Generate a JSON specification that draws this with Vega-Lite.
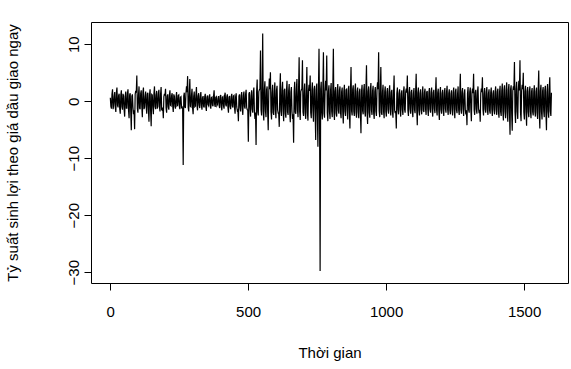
{
"$schema": "https://vega.github.io/schema/vega-lite/v6.json",
"width": 477, "height": 261,
"autosize": {"type": "none"},
"padding": {"left": 91, "top": 22, "right": 3, "bottom": 86},
"background": "white",
"config": {
 "view": {"stroke": "black", "strokeWidth": 1},
 "axis": {"grid": false, "domain": false, "tickColor": "black", "tickSize": 7, "labelFont": "Liberation Sans", "titleFont": "Liberation Sans", "labelFontSize": 15, "titleFontSize": 15, "labelColor": "black", "titleColor": "black", "titleFontWeight": "normal", "labelOverlap": false, "labelFlush": false}
},
"data": {"values": [
{"t":1,"r":0.6},{"t":5,"r":-1.3},{"t":9,"r":2.1},{"t":13,"r":-0.8},{"t":17,"r":1.6},{"t":21,"r":-1.9},{"t":25,"r":2.4},{"t":29,"r":-1.1},{"t":33,"r":1.3},{"t":37,"r":-2.2},
{"t":41,"r":1.9},{"t":45,"r":-1.5},{"t":49,"r":0.9},{"t":53,"r":-2.7},{"t":57,"r":1.7},{"t":61,"r":-1.2},{"t":65,"r":2.1},{"t":69,"r":-3.0},{"t":73,"r":1.4},{"t":77,"r":-5.1},
{"t":81,"r":1.2},{"t":85,"r":-2.3},{"t":89,"r":-4.9},{"t":93,"r":1.8},{"t":97,"r":4.5},{"t":101,"r":-2.0},{"t":105,"r":2.6},{"t":109,"r":-1.4},{"t":113,"r":1.9},{"t":117,"r":-2.8},
{"t":121,"r":2.4},{"t":125,"r":-1.1},{"t":129,"r":1.7},{"t":133,"r":-2.2},{"t":137,"r":1.5},{"t":141,"r":-3.6},{"t":145,"r":2.1},{"t":149,"r":-4.4},{"t":153,"r":1.1},{"t":157,"r":-2.3},
{"t":161,"r":2.6},{"t":165,"r":-1.4},{"t":169,"r":1.8},{"t":173,"r":-0.9},{"t":177,"r":2.0},{"t":181,"r":-1.8},{"t":185,"r":2.5},{"t":189,"r":-1.6},{"t":193,"r":-3.0},{"t":197,"r":1.3},
{"t":201,"r":2.2},{"t":205,"r":-2.0},{"t":209,"r":1.2},{"t":213,"r":-1.5},{"t":217,"r":1.9},{"t":221,"r":-0.8},{"t":225,"r":1.4},{"t":229,"r":-1.9},{"t":233,"r":0.9},{"t":237,"r":-1.3},
{"t":241,"r":1.6},{"t":245,"r":-0.7},{"t":249,"r":1.1},{"t":253,"r":-1.4},{"t":257,"r":0.8},{"t":261,"r":-1.0},{"t":265,"r":-11.2},{"t":269,"r":1.5},{"t":273,"r":-1.2},{"t":277,"r":2.6},
{"t":281,"r":4.4},{"t":285,"r":-1.8},{"t":289,"r":3.9},{"t":293,"r":-1.0},{"t":297,"r":2.2},{"t":301,"r":-2.3},{"t":305,"r":1.7},{"t":309,"r":-0.9},{"t":313,"r":2.5},{"t":317,"r":-1.6},
{"t":321,"r":1.4},{"t":325,"r":-1.2},{"t":329,"r":1.6},{"t":333,"r":-1.5},{"t":337,"r":0.9},{"t":341,"r":-1.1},{"t":345,"r":1.3},{"t":349,"r":-1.7},{"t":353,"r":1.0},{"t":357,"r":-0.8},
{"t":361,"r":1.2},{"t":365,"r":-1.3},{"t":369,"r":0.7},{"t":373,"r":-0.9},{"t":377,"r":1.9},{"t":381,"r":-1.0},{"t":385,"r":0.8},{"t":389,"r":-0.6},{"t":393,"r":0.9},{"t":397,"r":-1.2},
{"t":401,"r":1.1},{"t":405,"r":-1.6},{"t":409,"r":0.8},{"t":413,"r":-1.3},{"t":417,"r":1.5},{"t":421,"r":-0.9},{"t":425,"r":1.2},{"t":429,"r":-2.0},{"t":433,"r":0.9},{"t":437,"r":-1.4},
{"t":441,"r":1.3},{"t":445,"r":-1.1},{"t":449,"r":1.0},{"t":453,"r":-2.2},{"t":457,"r":1.4},{"t":461,"r":-1.6},{"t":465,"r":-3.5},{"t":469,"r":1.2},{"t":473,"r":-1.8},{"t":477,"r":1.6},
{"t":481,"r":-2.4},{"t":485,"r":1.7},{"t":489,"r":-1.3},{"t":493,"r":2.0},{"t":497,"r":-1.5},{"t":501,"r":-7.1},{"t":505,"r":1.6},{"t":509,"r":-2.7},{"t":513,"r":1.9},{"t":517,"r":-2.0},
{"t":521,"r":2.4},{"t":525,"r":-3.1},{"t":529,"r":-7.7},{"t":533,"r":3.8},{"t":537,"r":-2.5},{"t":541,"r":2.0},{"t":545,"r":8.9},{"t":549,"r":-2.5},{"t":553,"r":11.9},{"t":557,"r":-3.4},
{"t":561,"r":3.5},{"t":565,"r":-2.8},{"t":569,"r":2.6},{"t":573,"r":-5.1},{"t":577,"r":4.0},{"t":581,"r":5.1},{"t":585,"r":-3.2},{"t":589,"r":2.9},{"t":593,"r":-2.4},{"t":597,"r":3.3},
{"t":601,"r":-3.0},{"t":605,"r":2.7},{"t":609,"r":-2.1},{"t":613,"r":-4.5},{"t":617,"r":4.9},{"t":621,"r":-2.6},{"t":625,"r":3.4},{"t":629,"r":-3.5},{"t":633,"r":2.2},{"t":637,"r":-2.9},
{"t":641,"r":3.6},{"t":645,"r":-2.4},{"t":649,"r":3.0},{"t":653,"r":-3.7},{"t":657,"r":2.5},{"t":661,"r":-3.1},{"t":665,"r":-7.3},{"t":669,"r":3.4},{"t":673,"r":-2.2},{"t":677,"r":3.9},
{"t":681,"r":-2.8},{"t":685,"r":7.7},{"t":689,"r":-3.3},{"t":693,"r":2.0},{"t":697,"r":7.2},{"t":701,"r":-2.6},{"t":705,"r":3.1},{"t":709,"r":-3.1},{"t":713,"r":6.0},{"t":717,"r":-3.4},
{"t":721,"r":2.9},{"t":725,"r":4.5},{"t":729,"r":-3.0},{"t":733,"r":3.3},{"t":737,"r":-3.6},{"t":741,"r":2.7},{"t":745,"r":-6.8},{"t":749,"r":3.1},{"t":753,"r":-8.0},{"t":757,"r":9.2},
{"t":761,"r":-29.8},{"t":765,"r":3.4},{"t":769,"r":-3.2},{"t":773,"r":8.6},{"t":777,"r":-2.9},{"t":781,"r":3.6},{"t":785,"r":8.0},{"t":789,"r":-3.5},{"t":793,"r":2.8},{"t":797,"r":-3.1},
{"t":801,"r":3.2},{"t":805,"r":-2.8},{"t":809,"r":9.2},{"t":813,"r":-3.3},{"t":817,"r":2.5},{"t":821,"r":-2.7},{"t":825,"r":3.0},{"t":829,"r":-2.2},{"t":833,"r":2.6},{"t":837,"r":-3.0},
{"t":841,"r":2.4},{"t":845,"r":-3.9},{"t":849,"r":2.9},{"t":853,"r":-2.6},{"t":857,"r":2.1},{"t":861,"r":-3.2},{"t":865,"r":2.7},{"t":869,"r":-4.8},{"t":873,"r":6.0},{"t":877,"r":-2.5},
{"t":881,"r":2.8},{"t":885,"r":-2.6},{"t":889,"r":3.1},{"t":893,"r":-2.9},{"t":897,"r":2.4},{"t":901,"r":-3.0},{"t":905,"r":2.2},{"t":909,"r":-5.6},{"t":913,"r":2.9},{"t":917,"r":-2.3},
{"t":921,"r":3.0},{"t":925,"r":-2.7},{"t":929,"r":6.3},{"t":933,"r":-4.0},{"t":937,"r":2.6},{"t":941,"r":-2.9},{"t":945,"r":3.2},{"t":949,"r":-2.4},{"t":953,"r":2.7},{"t":957,"r":-3.1},
{"t":961,"r":2.5},{"t":965,"r":-2.6},{"t":969,"r":3.3},{"t":973,"r":8.6},{"t":977,"r":-2.8},{"t":981,"r":6.0},{"t":985,"r":-2.4},{"t":989,"r":2.9},{"t":993,"r":-3.0},{"t":997,"r":2.6},
{"t":1001,"r":-2.7},{"t":1005,"r":2.3},{"t":1009,"r":-2.2},{"t":1013,"r":2.8},{"t":1017,"r":-2.5},{"t":1021,"r":2.0},{"t":1025,"r":-2.9},{"t":1029,"r":4.5},{"t":1033,"r":-2.1},{"t":1037,"r":-4.8},
{"t":1041,"r":2.4},{"t":1045,"r":-2.3},{"t":1049,"r":2.1},{"t":1053,"r":-2.7},{"t":1057,"r":1.9},{"t":1061,"r":-2.4},{"t":1065,"r":2.6},{"t":1069,"r":-2.0},{"t":1073,"r":2.2},{"t":1077,"r":4.5},
{"t":1081,"r":-2.6},{"t":1085,"r":2.5},{"t":1089,"r":-2.2},{"t":1093,"r":2.0},{"t":1097,"r":-2.8},{"t":1101,"r":2.3},{"t":1105,"r":-2.1},{"t":1109,"r":4.8},{"t":1113,"r":-4.2},{"t":1117,"r":2.4},
{"t":1121,"r":-2.5},{"t":1125,"r":2.1},{"t":1129,"r":-2.3},{"t":1133,"r":2.6},{"t":1137,"r":-1.9},{"t":1141,"r":2.2},{"t":1145,"r":-2.4},{"t":1149,"r":1.8},{"t":1153,"r":-2.6},{"t":1157,"r":2.3},
{"t":1161,"r":-2.0},{"t":1165,"r":2.4},{"t":1169,"r":-2.7},{"t":1173,"r":2.0},{"t":1177,"r":-2.1},{"t":1181,"r":4.2},{"t":1185,"r":-2.5},{"t":1189,"r":2.2},{"t":1193,"r":-3.3},{"t":1197,"r":2.5},
{"t":1201,"r":-2.2},{"t":1205,"r":2.0},{"t":1209,"r":-2.6},{"t":1213,"r":2.3},{"t":1217,"r":-2.0},{"t":1221,"r":2.7},{"t":1225,"r":-2.4},{"t":1229,"r":2.1},{"t":1233,"r":-2.3},{"t":1237,"r":1.9},
{"t":1241,"r":-2.5},{"t":1245,"r":2.4},{"t":1249,"r":-3.0},{"t":1253,"r":2.2},{"t":1257,"r":-2.1},{"t":1261,"r":2.6},{"t":1265,"r":-2.4},{"t":1269,"r":4.8},{"t":1273,"r":-2.2},{"t":1277,"r":2.3},
{"t":1281,"r":-2.6},{"t":1285,"r":2.1},{"t":1289,"r":-2.3},{"t":1293,"r":-4.2},{"t":1297,"r":2.5},{"t":1301,"r":-2.0},{"t":1305,"r":2.4},{"t":1309,"r":-3.5},{"t":1313,"r":2.2},{"t":1317,"r":4.8},
{"t":1321,"r":-2.4},{"t":1325,"r":2.0},{"t":1329,"r":-2.2},{"t":1333,"r":2.6},{"t":1337,"r":-2.1},{"t":1341,"r":-3.6},{"t":1345,"r":2.2},{"t":1349,"r":4.2},{"t":1353,"r":-2.5},{"t":1357,"r":2.3},
{"t":1361,"r":-2.0},{"t":1365,"r":2.5},{"t":1369,"r":-2.4},{"t":1373,"r":2.1},{"t":1377,"r":-2.2},{"t":1381,"r":2.4},{"t":1385,"r":-2.6},{"t":1389,"r":1.9},{"t":1393,"r":-2.3},{"t":1397,"r":2.6},
{"t":1401,"r":-2.4},{"t":1405,"r":2.2},{"t":1409,"r":-2.9},{"t":1413,"r":2.7},{"t":1417,"r":-2.6},{"t":1421,"r":3.1},{"t":1425,"r":-3.4},{"t":1429,"r":2.8},{"t":1433,"r":-3.0},{"t":1437,"r":3.3},
{"t":1441,"r":-3.6},{"t":1445,"r":3.0},{"t":1449,"r":-5.9},{"t":1453,"r":2.8},{"t":1457,"r":-5.2},{"t":1461,"r":2.6},{"t":1465,"r":6.9},{"t":1469,"r":-3.8},{"t":1473,"r":3.4},{"t":1477,"r":-3.1},
{"t":1481,"r":3.6},{"t":1485,"r":7.2},{"t":1489,"r":-3.5},{"t":1493,"r":2.9},{"t":1497,"r":5.0},{"t":1501,"r":-3.2},{"t":1505,"r":2.7},{"t":1509,"r":-4.3},{"t":1513,"r":2.5},{"t":1517,"r":-2.8},
{"t":1521,"r":2.6},{"t":1525,"r":-3.0},{"t":1529,"r":2.3},{"t":1533,"r":-2.5},{"t":1537,"r":2.8},{"t":1541,"r":-2.7},{"t":1545,"r":2.4},{"t":1549,"r":-3.1},{"t":1553,"r":5.4},{"t":1557,"r":-4.8},
{"t":1561,"r":2.9},{"t":1565,"r":-3.2},{"t":1569,"r":2.5},{"t":1573,"r":-2.8},{"t":1577,"r":2.7},{"t":1581,"r":-5.1},{"t":1585,"r":3.0},{"t":1589,"r":-2.9},{"t":1593,"r":4.2},{"t":1597,"r":-2.6},
{"t":3,"r":-0.9},{"t":7,"r":1.2},{"t":11,"r":-1.4},{"t":15,"r":0.8},{"t":19,"r":-1.1},{"t":23,"r":1.5},{"t":27,"r":-0.7},{"t":31,"r":1.0},{"t":35,"r":-1.3},{"t":39,"r":1.1},
{"t":43,"r":-1.0},{"t":47,"r":1.3},{"t":51,"r":-1.5},{"t":55,"r":0.9},{"t":59,"r":-1.2},{"t":63,"r":1.4},{"t":67,"r":-1.6},{"t":71,"r":1.1},{"t":75,"r":-1.8},{"t":79,"r":0.9},
{"t":83,"r":-1.1},{"t":87,"r":-1.6},{"t":91,"r":1.2},{"t":95,"r":1.5},{"t":99,"r":-1.3},{"t":103,"r":1.0},{"t":107,"r":-1.2},{"t":111,"r":1.4},{"t":115,"r":-0.9},{"t":119,"r":1.6},
{"t":123,"r":-1.4},{"t":127,"r":0.8},{"t":131,"r":-1.0},{"t":135,"r":1.3},{"t":139,"r":-1.5},{"t":143,"r":1.1},{"t":147,"r":-1.7},{"t":151,"r":1.2},{"t":155,"r":-1.0},{"t":159,"r":1.3},
{"t":163,"r":-0.9},{"t":167,"r":1.1},{"t":171,"r":-1.3},{"t":175,"r":1.4},{"t":179,"r":-1.0},{"t":183,"r":1.2},{"t":187,"r":-1.5},{"t":191,"r":-1.1},{"t":195,"r":0.8},{"t":199,"r":1.0},
{"t":203,"r":-1.2},{"t":207,"r":0.9},{"t":211,"r":-1.0},{"t":215,"r":1.1},{"t":219,"r":-0.7},{"t":223,"r":1.0},{"t":227,"r":-0.8},{"t":231,"r":1.2},{"t":235,"r":-0.9},{"t":239,"r":0.7},
{"t":243,"r":-0.8},{"t":247,"r":1.0},{"t":251,"r":-0.9},{"t":255,"r":0.7},{"t":259,"r":-1.1},{"t":263,"r":-1.3},{"t":267,"r":0.9},{"t":271,"r":-1.0},{"t":275,"r":1.4},{"t":279,"r":1.6},
{"t":283,"r":-1.1},{"t":287,"r":1.3},{"t":291,"r":-0.9},{"t":295,"r":1.0},{"t":299,"r":-1.2},{"t":303,"r":0.8},{"t":307,"r":-1.0},{"t":311,"r":1.1},{"t":315,"r":-0.8},{"t":319,"r":0.9},
{"t":323,"r":-0.7},{"t":327,"r":0.9},{"t":331,"r":-0.8},{"t":335,"r":0.6},{"t":339,"r":-0.9},{"t":343,"r":0.8},{"t":347,"r":-1.0},{"t":351,"r":0.7},{"t":355,"r":-0.6},{"t":359,"r":0.8},
{"t":363,"r":-0.8},{"t":367,"r":0.6},{"t":371,"r":-0.7},{"t":375,"r":0.9},{"t":379,"r":-0.6},{"t":383,"r":0.7},{"t":387,"r":-0.8},{"t":391,"r":0.5},{"t":395,"r":-0.7},{"t":399,"r":0.9},
{"t":403,"r":-0.9},{"t":407,"r":0.7},{"t":411,"r":-0.8},{"t":415,"r":1.0},{"t":419,"r":-0.6},{"t":423,"r":0.8},{"t":427,"r":-1.1},{"t":431,"r":0.7},{"t":435,"r":-0.9},{"t":439,"r":0.8},
{"t":443,"r":-0.8},{"t":447,"r":0.9},{"t":451,"r":-1.2},{"t":455,"r":0.8},{"t":459,"r":-1.0},{"t":463,"r":-1.4},{"t":467,"r":0.9},{"t":471,"r":-1.1},{"t":475,"r":1.0},{"t":479,"r":-1.3},
{"t":483,"r":1.0},{"t":487,"r":-0.9},{"t":491,"r":1.2},{"t":495,"r":-1.1},{"t":499,"r":-1.6},{"t":503,"r":1.3},{"t":507,"r":-1.2},{"t":511,"r":1.0},{"t":515,"r":-1.4},{"t":519,"r":1.5},
{"t":523,"r":-1.8},{"t":527,"r":-2.0},{"t":531,"r":1.6},{"t":535,"r":-1.9},{"t":539,"r":1.7},{"t":543,"r":2.2},{"t":547,"r":-1.5},{"t":551,"r":2.0},{"t":555,"r":-1.8},{"t":559,"r":1.9},
{"t":563,"r":-1.7},{"t":567,"r":2.0},{"t":571,"r":-1.9},{"t":575,"r":1.6},{"t":579,"r":2.1},{"t":583,"r":-1.8},{"t":587,"r":1.5},{"t":591,"r":-2.0},{"t":595,"r":1.7},{"t":599,"r":-1.6},
{"t":603,"r":1.9},{"t":607,"r":-1.5},{"t":611,"r":-2.1},{"t":615,"r":1.8},{"t":619,"r":-1.7},{"t":623,"r":2.0},{"t":627,"r":-1.6},{"t":631,"r":1.9},{"t":635,"r":-2.2},{"t":639,"r":1.7},
{"t":643,"r":-1.9},{"t":647,"r":1.8},{"t":651,"r":-2.0},{"t":655,"r":1.6},{"t":659,"r":-1.8},{"t":663,"r":-2.3},{"t":667,"r":1.7},{"t":671,"r":-1.9},{"t":675,"r":2.1},{"t":679,"r":-1.6},
{"t":683,"r":2.0},{"t":687,"r":-1.8},{"t":691,"r":1.7},{"t":695,"r":2.2},{"t":699,"r":-1.9},{"t":703,"r":1.6},{"t":707,"r":-2.1},{"t":711,"r":1.8},{"t":715,"r":-2.0},{"t":719,"r":1.9},
{"t":723,"r":1.8},{"t":727,"r":-2.0},{"t":731,"r":1.9},{"t":735,"r":-1.7},{"t":739,"r":2.1},{"t":743,"r":-1.8},{"t":747,"r":2.0},{"t":751,"r":-2.2},{"t":755,"r":1.9},{"t":759,"r":-2.4},
{"t":763,"r":2.1},{"t":767,"r":-1.9},{"t":771,"r":2.0},{"t":775,"r":-2.2},{"t":779,"r":1.8},{"t":783,"r":1.9},{"t":787,"r":-2.0},{"t":791,"r":1.7},{"t":795,"r":-1.9},{"t":799,"r":2.0},
{"t":803,"r":-1.8},{"t":807,"r":2.0},{"t":811,"r":-1.9},{"t":815,"r":1.7},{"t":819,"r":-2.1},{"t":823,"r":1.8},{"t":827,"r":-1.6},{"t":831,"r":1.9},{"t":835,"r":-2.0},{"t":839,"r":1.7},
{"t":843,"r":-1.9},{"t":847,"r":1.7},{"t":851,"r":-1.8},{"t":855,"r":2.0},{"t":859,"r":-1.6},{"t":863,"r":1.9},{"t":867,"r":-2.0},{"t":871,"r":1.8},{"t":875,"r":-1.7},{"t":879,"r":2.1},
{"t":883,"r":-1.8},{"t":887,"r":1.9},{"t":891,"r":-2.0},{"t":895,"r":1.7},{"t":899,"r":-1.9},{"t":903,"r":1.6},{"t":907,"r":-2.1},{"t":911,"r":1.8},{"t":915,"r":-1.7},{"t":919,"r":1.9},
{"t":923,"r":-1.9},{"t":927,"r":2.0},{"t":931,"r":-1.8},{"t":935,"r":1.7},{"t":939,"r":-2.0},{"t":943,"r":1.9},{"t":947,"r":-1.6},{"t":951,"r":1.8},{"t":955,"r":-2.1},{"t":959,"r":1.7},
{"t":963,"r":-1.8},{"t":967,"r":1.9},{"t":971,"r":2.1},{"t":975,"r":-1.7},{"t":979,"r":1.8},{"t":983,"r":-2.0},{"t":987,"r":1.6},{"t":991,"r":-1.9},{"t":995,"r":1.7},{"t":999,"r":-1.8},
{"t":1003,"r":1.6},{"t":1007,"r":-1.5},{"t":1011,"r":1.7},{"t":1015,"r":-1.4},{"t":1019,"r":1.6},{"t":1023,"r":-1.8},{"t":1027,"r":1.5},{"t":1031,"r":-1.6},{"t":1035,"r":-1.7},{"t":1039,"r":1.4},
{"t":1043,"r":-1.5},{"t":1047,"r":1.4},{"t":1051,"r":-1.6},{"t":1055,"r":1.3},{"t":1059,"r":-1.5},{"t":1063,"r":1.7},{"t":1067,"r":-1.4},{"t":1071,"r":1.6},{"t":1075,"r":1.5},{"t":1079,"r":-1.6},
{"t":1083,"r":1.5},{"t":1087,"r":-1.4},{"t":1091,"r":1.6},{"t":1095,"r":-1.7},{"t":1099,"r":1.3},{"t":1103,"r":-1.5},{"t":1107,"r":1.6},{"t":1111,"r":-1.4},{"t":1115,"r":1.5},{"t":1119,"r":-1.6},
{"t":1123,"r":1.4},{"t":1127,"r":-1.5},{"t":1131,"r":1.3},{"t":1135,"r":-1.6},{"t":1139,"r":1.5},{"t":1143,"r":-1.4},{"t":1147,"r":1.6},{"t":1151,"r":-1.3},{"t":1155,"r":1.5},{"t":1159,"r":-1.4},
{"t":1163,"r":1.6},{"t":1167,"r":-1.4},{"t":1171,"r":1.5},{"t":1175,"r":-1.3},{"t":1179,"r":1.4},{"t":1183,"r":-1.6},{"t":1187,"r":1.5},{"t":1191,"r":-1.7},{"t":1195,"r":1.3},{"t":1199,"r":-1.5},
{"t":1203,"r":1.4},{"t":1207,"r":-1.6},{"t":1211,"r":1.5},{"t":1215,"r":-1.3},{"t":1219,"r":1.6},{"t":1223,"r":-1.5},{"t":1227,"r":1.4},{"t":1231,"r":-1.6},{"t":1235,"r":1.3},{"t":1239,"r":-1.5},
{"t":1243,"r":1.5},{"t":1247,"r":-1.4},{"t":1251,"r":1.6},{"t":1255,"r":-1.5},{"t":1259,"r":1.3},{"t":1263,"r":-1.6},{"t":1267,"r":1.4},{"t":1271,"r":-1.5},{"t":1275,"r":1.6},{"t":1279,"r":-1.4},
{"t":1283,"r":1.3},{"t":1287,"r":-1.5},{"t":1291,"r":-1.6},{"t":1295,"r":1.4},{"t":1299,"r":-1.5},{"t":1303,"r":1.6},{"t":1307,"r":-1.3},{"t":1311,"r":1.5},{"t":1315,"r":1.4},{"t":1319,"r":-1.6},
{"t":1323,"r":1.5},{"t":1327,"r":-1.4},{"t":1331,"r":1.6},{"t":1335,"r":-1.3},{"t":1339,"r":-1.5},{"t":1343,"r":1.4},{"t":1347,"r":1.6},{"t":1351,"r":-1.5},{"t":1355,"r":1.3},{"t":1359,"r":-1.4},
{"t":1363,"r":1.6},{"t":1367,"r":-1.5},{"t":1371,"r":1.4},{"t":1375,"r":-1.6},{"t":1379,"r":1.5},{"t":1383,"r":-1.4},{"t":1387,"r":1.3},{"t":1391,"r":-1.5},{"t":1395,"r":1.6},{"t":1399,"r":-1.5},
{"t":1403,"r":1.7},{"t":1407,"r":-1.8},{"t":1411,"r":1.6},{"t":1415,"r":-1.9},{"t":1419,"r":1.8},{"t":1423,"r":-1.7},{"t":1427,"r":2.0},{"t":1431,"r":-1.8},{"t":1435,"r":1.9},{"t":1439,"r":-2.0},
{"t":1443,"r":2.0},{"t":1447,"r":-1.9},{"t":1451,"r":2.1},{"t":1455,"r":-2.2},{"t":1459,"r":1.8},{"t":1463,"r":2.0},{"t":1467,"r":-1.9},{"t":1471,"r":2.1},{"t":1475,"r":-1.8},{"t":1479,"r":2.0},
{"t":1483,"r":1.9},{"t":1487,"r":-2.0},{"t":1491,"r":1.8},{"t":1495,"r":2.1},{"t":1499,"r":-1.9},{"t":1503,"r":1.7},{"t":1507,"r":-2.0},{"t":1511,"r":1.8},{"t":1515,"r":-1.9},{"t":1519,"r":1.7},
{"t":1523,"r":-1.8},{"t":1527,"r":1.7},{"t":1531,"r":-1.9},{"t":1535,"r":1.6},{"t":1539,"r":-1.8},{"t":1543,"r":1.7},{"t":1547,"r":-2.0},{"t":1551,"r":1.9},{"t":1555,"r":-2.1},{"t":1559,"r":1.8},
{"t":1563,"r":-1.9},{"t":1567,"r":1.8},{"t":1571,"r":-1.7},{"t":1575,"r":1.9},{"t":1579,"r":-2.0},{"t":1583,"r":1.6},{"t":1587,"r":-1.8},{"t":1591,"r":2.0},{"t":1595,"r":-1.7},{"t":1599,"r":1.5}
]},
"mark": {"type": "line", "color": "black", "strokeWidth": 1.2},
"encoding": {
 "x": {"field": "t", "type": "quantitative", "scale": {"domain": [-69, 1659], "nice": false, "zero": false},
  "axis": {"values": [0, 500, 1000, 1500], "format": "d", "title": "Thời gian", "labelPadding": 14, "titleY": 69, "titleBaseline": "middle", "titleAlign": "center"}},
 "y": {"field": "r", "type": "quantitative", "scale": {"domain": [-31.9, 13.9], "nice": false, "zero": false},
  "axis": {"values": [-30, -20, -10, 0, 10], "format": "d", "labelAngle": -90, "labelAlign": "center", "labelBaseline": "bottom", "labelPadding": 3, "title": "Tỷ suất sinh lợi theo giá dầu giao ngay", "titleX": -79, "titleY": 130.5, "titleAngle": -90, "titleAlign": "center", "titleBaseline": "middle"}}
}
}
